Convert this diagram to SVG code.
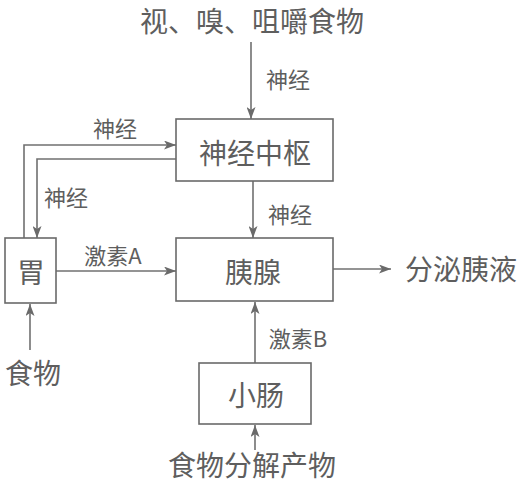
<svg xmlns="http://www.w3.org/2000/svg" width="524" height="484" viewBox="0 0 524 484">
<style>
.bg{fill:#ffffff}
.box{fill:none;stroke:#6a6a6a;stroke-width:1.6}
.ln{fill:none;stroke:#707070;stroke-width:1.6;marker-end:url(#ah)}
.t{font-family:"Noto Sans CJK SC","Liberation Sans",sans-serif;fill:#5e5e5e;text-anchor:middle;dominant-baseline:central}
.big{font-size:28px}
.sm{font-size:22px}
</style>
<defs>
<marker id="ah" markerUnits="userSpaceOnUse" markerWidth="13" markerHeight="9" refX="12" refY="4.5" orient="auto">
<path d="M0,0 L12,4.5 L0,9 L3,4.5 z" fill="#6a6a6a"/>
</marker>
</defs>
<rect class="bg" x="0" y="0" width="524" height="484"/>
<g id="connectors">
<path class="ln" d="M251,42 L251,119"/>
<path class="ln" d="M24,238 L24,145 L176,145"/>
<path class="ln" d="M176,159 L37,159 L37,238"/>
<path class="ln" d="M253,181 L253,238"/>
<path class="ln" d="M56,271 L176,271"/>
<path class="ln" d="M333,269 L391,269"/>
<path class="ln" d="M255,363 L255,302"/>
<path class="ln" d="M255,450 L255,425"/>
<path class="ln" d="M30,350 L30,304"/>
<text class="t sm" x="288" y="78">神经</text>
<text class="t sm" x="115" y="127">神经</text>
<text class="t sm" x="66" y="196">神经</text>
<text class="t sm" x="290" y="213">神经</text>
<text class="t sm" x="113" y="254">激素A</text>
<text class="t sm" x="298" y="337">激素B</text>
</g>
<g id="input-top"><text class="t big" x="252" y="20">视、嗅、咀嚼食物</text></g>
<g id="center"><rect class="box" x="176" y="119" width="157" height="62"/><text class="t big" x="255" y="152">神经中枢</text></g>
<g id="stomach"><rect class="box" x="5" y="238" width="51" height="65"/><text class="t big" x="31" y="271">胃</text></g>
<g id="pancreas"><rect class="box" x="176" y="238" width="157" height="63"/><text class="t big" x="253" y="271">胰腺</text></g>
<g id="output"><text class="t big" x="461" y="268">分泌胰液</text></g>
<g id="intestine"><rect class="box" x="199" y="363" width="112" height="61"/><text class="t big" x="256" y="394">小肠</text></g>
<g id="food"><text class="t big" x="33" y="372">食物</text></g>
<g id="food-products"><text class="t big" x="252" y="464">食物分解产物</text></g>
</svg>
